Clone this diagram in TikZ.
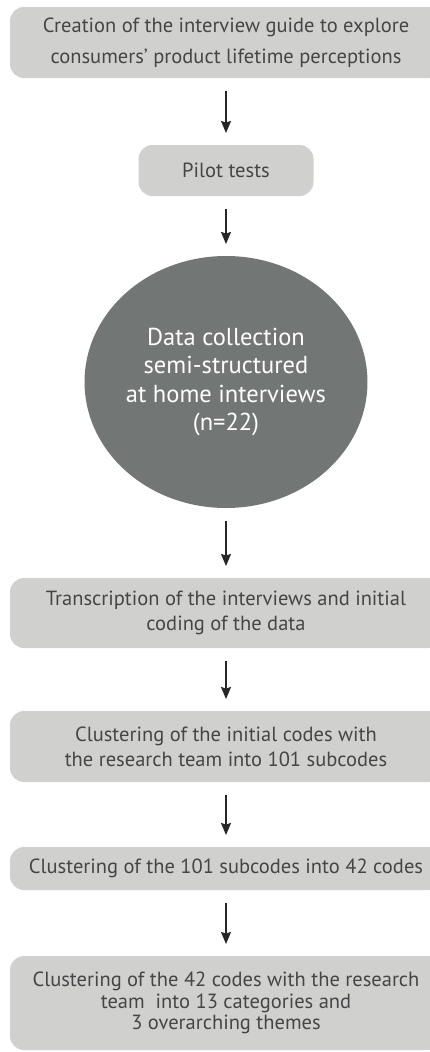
\documentclass[tikz,border=0pt]{standalone}
\usepackage{fontspec}
\setmainfont{PT Sans}
\usepackage{xcolor}
\definecolor{pale-grey}{HTML}{D0D1CF}
\definecolor{dark-grey}{HTML}{727776}
\definecolor{ink}{HTML}{454545}
\usepackage{tikz}
\usetikzlibrary{positioning}
\usetikzlibrary{shapes.geometric}
\usetikzlibrary{arrows.meta}
\tikzset{box/.style = {fill=pale-grey, rounded corners=14pt, align=center, text centered, text=ink, outer sep=0pt, inner sep=0pt, minimum width=432pt}}
\tikzset{blob/.style = {ellipse, fill=dark-grey, align=center, text centered, text=white, outer sep=0pt, inner sep=0pt, minimum width=267pt, minimum height=252pt}}
\tikzset{arr/.style = {line width=1.3pt, draw=black!85, -{Stealth[length=12pt, width=10pt, inset=1.5pt]}, shorten <=13pt, shorten >=12pt}}

\begin{document}
\begin{tikzpicture}[
  font=\fontsize{20.5}{25}\selectfont
]
\clip (0,0) rectangle (430pt,-1052pt);
\useasboundingbox (0,0) rectangle (430pt,-1052pt);

\node[box, minimum height=71pt, font=\fontsize{20.5}{31}\selectfont] (b1) at (226pt,-42.5pt) {
  Creation of the interview guide to explore\\
  consumers' product lifetime perceptions
};
\node[box, minimum width=175pt, minimum height=51pt, below=67pt of b1] (b2) {Pilot tests};
\node[blob, below=60pt of b2, font=\fontsize{24.5}{28.5}\selectfont] (b3) {
  Data collection\\
  semi-structured\\
  at home interviews\\
  (n=22)
};
\node[box, minimum height=70pt, below=70pt of b3] (b4) {
  Transcription of the interviews and initial\\
  coding of the data
};
\node[box, minimum height=71pt, below=63pt of b4] (b5) {
  Clustering of the initial codes with\\
  the research team into 101 subcodes
};
\node[box, minimum height=43pt, below=65pt of b5] (b6) {Clustering of the 101 subcodes into 42 codes};
\node[box, minimum height=94pt, below=66pt of b6, font=\fontsize{20.5}{21.5}\selectfont] (b7) {
  Clustering of the 42 codes with the research\\
  team\ \ into 13 categories and\\
  3 overarching themes
};

\draw[arr]  (b1) -- (b2);
\draw[arr]  (b2) -- (b3);
\draw[arr]  (b3) -- (b4);
\draw[arr]  (b4) -- (b5);
\draw[arr]  (b5) -- (b6);
\draw[arr]  (b6) -- (b7);

\end{tikzpicture}
\end{document}
